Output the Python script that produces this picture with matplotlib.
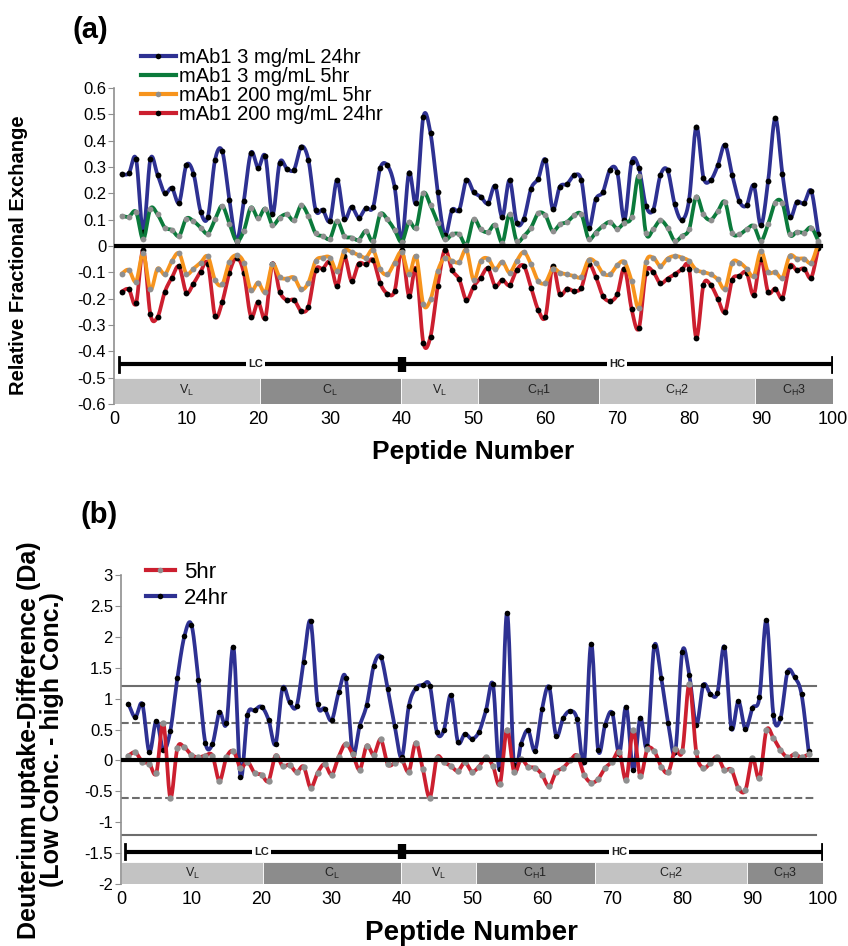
import numpy as np
import matplotlib
matplotlib.use("Agg")
import matplotlib.pyplot as plt
from matplotlib.lines import Line2D
from matplotlib.patches import Rectangle

plt.rcParams["font.family"] = ["Liberation Sans", "DejaVu Sans"]

peptide = np.arange(1, 99)

# (a) relative fractional exchange
rfe_3_24 = [0.272, 0.276, 0.33, 0.054, 0.33, 0.27, 0.20, 0.22, 0.165, 0.306,
            0.275, 0.13, 0.11, 0.327, 0.36, 0.175, 0.02, 0.17, 0.354, 0.297,
            0.34, 0.12, 0.316, 0.294, 0.29, 0.377, 0.327, 0.137, 0.137, 0.096,
            0.25, 0.104, 0.148, 0.108, 0.144, 0.147, 0.296, 0.306, 0.224, 0.019,
            0.278, 0.165, 0.49, 0.428, 0.206, 0.04, 0.137, 0.137, 0.25, 0.205,
            0.187, 0.162, 0.228, 0.11, 0.25, 0.089, 0.104, 0.218, 0.256, 0.327,
            0.142, 0.225, 0.235, 0.268, 0.25, 0.068, 0.177, 0.205, 0.29, 0.28,
            0.1, 0.32, 0.297, 0.152, 0.137, 0.268, 0.287, 0.158, 0.099, 0.175,
            0.453, 0.26, 0.25, 0.306, 0.384, 0.27, 0.17, 0.154, 0.23, 0.078,
            0.245, 0.486, 0.273, 0.109, 0.167, 0.162, 0.209, 0.044]
rfe_3_5 = [0.114, 0.111, 0.129, 0.025, 0.142, 0.12, 0.07, 0.061, 0.038, 0.104,
           0.094, 0.07, 0.047, 0.101, 0.152, 0.085, 0.019, 0.057, 0.146, 0.105,
           0.142, 0.08, 0.108, 0.12, 0.097, 0.154, 0.114, 0.048, 0.038, 0.028,
           0.095, 0.038, 0.032, 0.023, 0.057, 0.019, 0.12, 0.101, 0.061, 0.015,
           0.091, 0.07, 0.2, 0.154, 0.089, 0.025, 0.044, 0.044, 0.005, 0.101,
           0.063, 0.053, 0.08, 0.013, 0.12, 0.019, 0.038, 0.07, 0.124, 0.116,
           0.057, 0.082, 0.091, 0.116, 0.12, 0.028, 0.051, 0.076, 0.091, 0.066,
           0.089, 0.111, 0.266, 0.048, 0.063, 0.097, 0.07, 0.019, 0.038, 0.063,
           0.187, 0.12, 0.099, 0.132, 0.167, 0.051, 0.044, 0.063, 0.076, 0.019,
           0.082, 0.165, 0.162, 0.044, 0.053, 0.051, 0.07, 0.019]
rfe_200_5 = [-0.105, -0.091, -0.135, -0.028, -0.165, -0.086, -0.108, -0.057, -0.028, -0.105,
             -0.086, -0.063, -0.04, -0.129, -0.146, -0.06, -0.035, -0.063, -0.168, -0.139,
             -0.175, -0.07, -0.118, -0.124, -0.12, -0.165, -0.139, -0.057, -0.044, -0.044,
             -0.095, -0.019, -0.023, -0.035, -0.044, -0.015, -0.089, -0.108, -0.063, -0.023,
             -0.108, -0.04, -0.222, -0.203, -0.095, -0.044, -0.057, -0.061, -0.015, -0.129,
             -0.057, -0.048, -0.089, -0.06, -0.101, -0.057, -0.023, -0.07, -0.133, -0.139,
             -0.086, -0.101, -0.108, -0.114, -0.117, -0.053, -0.063, -0.104, -0.108, -0.073,
             -0.061, -0.133, -0.234, -0.061, -0.044, -0.076, -0.048, -0.038, -0.044, -0.057,
             -0.091, -0.099, -0.108, -0.127, -0.162, -0.063, -0.063, -0.086, -0.114, -0.019,
             -0.099, -0.099, -0.12, -0.038, -0.048, -0.048, -0.063, 0.01]
rfe_200_24 = [-0.173, -0.165, -0.218, -0.015, -0.26, -0.27, -0.175, -0.12, -0.078, -0.177,
              -0.143, -0.097, -0.068, -0.266, -0.213, -0.101, -0.044, -0.101, -0.268, -0.213,
              -0.272, -0.067, -0.173, -0.206, -0.205, -0.247, -0.23, -0.091, -0.086, -0.061,
              -0.152, -0.04, -0.133, -0.067, -0.07, -0.053, -0.142, -0.181, -0.171, -0.016,
              -0.19, -0.086, -0.367, -0.344, -0.152, -0.015, -0.091, -0.127, -0.205, -0.154,
              -0.12, -0.085, -0.152, -0.129, -0.149, -0.091, -0.076, -0.158, -0.243, -0.268,
              -0.078, -0.184, -0.162, -0.171, -0.158, -0.07, -0.116, -0.19, -0.209, -0.184,
              -0.086, -0.24, -0.313, -0.101, -0.099, -0.142, -0.124, -0.108, -0.089, -0.086,
              -0.348, -0.148, -0.148, -0.2, -0.251, -0.129, -0.114, -0.101, -0.186, -0.048,
              -0.175, -0.162, -0.196, -0.076, -0.092, -0.086, -0.12, -0.006]

# (b) deuterium uptake difference, low conc. - high conc. (Da)
dd_24 = [0.92, 0.70, 0.91, 0.135, 0.64, 0.17, 0.48, 1.33, 2.01, 2.2,
         1.31, 0.28, 0.265, 0.78, 0.6, 1.83, -0.26, 0.73, 0.81, 0.87,
         0.66, 0.265, 1.17, 0.94, 0.88, 1.6, 2.25, 0.92, 0.84, 0.65,
         1.1, 1.34, 0.12, 0.56, 0.9, 1.53, 1.68, 1.15, 0.55, 0.05,
         0.88, 1.17, 1.22, 1.21, 0.46, 0.49, 1.06, 0.3, 0.43, 0.35,
         0.46, 0.81, 1.23, -0.14, 2.39, -0.07, 0.27, 0.49, 0.16, 0.83,
         1.19, 0.4, 0.68, 0.8, 0.67, -0.02, 1.89, 0.17, 0.58, 0.77,
         0.11, 0.87, -0.16, 0.69, 0.23, 1.85, 1.33, 0.6, 0.14, 1.76,
         1.38, 0.58, 1.22, 1.08, 1.09, 1.84, 0.52, 0.96, 0.51, 0.85,
         1.02, 2.27, 0.73, 0.68, 1.43, 1.35, 1.07, 0.16]
dd_5 = [0.08, 0.13, -0.02, -0.05, -0.2, 0.6, -0.6, 0.2, 0.21, 0.09,
        0.05, 0.08, 0.08, -0.33, 0.05, 0.15, -0.12, -0.02, -0.2, -0.23,
        -0.33, 0.08, -0.09, -0.07, -0.19, -0.1, -0.44, -0.2, -0.06, -0.23,
        0.06, 0.27, 0.1, -0.15, 0.24, 0.09, 0.34, -0.06, -0.04, 0.01,
        -0.18, 0.29, -0.14, -0.6, 0.04, -0.03, -0.09, -0.17, -0.03, -0.18,
        -0.1, 0.05, -0.09, -0.38, 0.5, -0.18, 0.02, -0.1, -0.12, -0.23,
        -0.42, -0.19, -0.12, 0.0, 0.08, -0.23, -0.36, -0.3, -0.12, -0.02,
        0.14, -0.31, 0.49, -0.25, 0.18, 0.15, -0.1, -0.19, 0.18, 0.15,
        1.24, 0.13, -0.12, -0.04, 0.06, -0.15, -0.15, -0.45, -0.48, 0.04,
        -0.29, 0.49, 0.36, 0.17, 0.05, 0.1, 0.05, 0.1]

domain_names = ["V$_\\mathregular{L}$", "C$_\\mathregular{L}$", "V$_\\mathregular{L}$",
                "C$_\\mathregular{H}$1", "C$_\\mathregular{H}$2", "C$_\\mathregular{H}$3"]
domain_edges = [0, 20.2, 39.9, 50.6, 67.5, 89.2, 100]
domain_shade = ["#c3c3c3", "#8c8c8c", "#c3c3c3", "#8c8c8c", "#c3c3c3", "#8c8c8c"]

xticks = list(range(0, 101, 10))
a_yticks = [-0.6, -0.5, -0.4, -0.3, -0.2, -0.1, 0, 0.1, 0.2, 0.3, 0.4, 0.5, 0.6]
a_ylabels = ["-0.6", "-0.5", "-0.4", "-0.3", "-0.2", "-0.1", "0", "0.1", "0.2", "0.3", "0.4", "0.5", "0.6"]
b_yticks = [-2, -1.5, -1, -0.5, 0, 0.5, 1, 1.5, 2, 2.5, 3]
b_ylabels = ["-2", "-1.5", "-1", "-0.5", "0", "0.5", "1", "1.5", "2", "2.5", "3"]

BLUE = "#2e3192"
GREEN = "#0b7a3b"
ORANGE = "#f7941d"
RED = "#cc1f2f"
GREY = "#8f8f8f"


def smooth(x, y, n=16):
    # Catmull-Rom through the points, like the smoothed lines of the original
    x = np.asarray(x, float)
    y = np.asarray(y, float)
    t = np.linspace(0, 1, n, endpoint=False)[:, None]
    out = []
    for v in (x, y):
        p = np.concatenate([[2 * v[0] - v[1]], v, [2 * v[-1] - v[-2]]])
        p0, p1, p2, p3 = p[:-3], p[1:-2], p[2:-1], p[3:]
        c = 0.5 * (2 * p1 + (p2 - p0) * t + (2 * p0 - 5 * p1 + 4 * p2 - p3) * t ** 2
                   + (3 * p1 - p0 - 3 * p2 + p3) * t ** 3)
        out.append(np.append(c.T.ravel(), v[-1]))
    return out


def draw(ax, y, color, mcolor, z, ms=4.2):
    sx, sy = smooth(peptide, y)
    ax.plot(sx, sy, color=color, lw=2.7, zorder=z, solid_capstyle="round")
    ax.plot(peptide, y, "o", ms=ms, color=mcolor, mec="none", zorder=z + 0.1)


def domains(ax, y0, y1, ybar, tick_h, lc_x, hc_x):
    for name, l, r, shade in zip(domain_names, domain_edges[:-1], domain_edges[1:], domain_shade):
        ax.add_patch(Rectangle((l, y0), r - l, y1 - y0, fc=shade, ec="white", lw=0.6, zorder=2))
        ax.text((l + r) / 2, (y0 + y1) / 2, name, ha="center", va="center", fontsize=9,
                color="#222222", zorder=3)
    ax.plot([0.6, 99.9], [ybar, ybar], color="black", lw=3, zorder=3, solid_capstyle="butt")
    for xe in (0.6, 99.9):
        ax.plot([xe, xe], [ybar - tick_h, ybar + tick_h], color="black", lw=2, zorder=3)
    ax.plot([40, 40], [ybar - tick_h, ybar + tick_h], color="black", lw=6, zorder=3,
            solid_capstyle="butt")
    for label, xx in (("LC", lc_x), ("HC", hc_x)):
        ax.text(xx, ybar, label, ha="center", va="center", fontsize=8, fontweight="bold",
                color="#222222", zorder=4,
                bbox=dict(fc="white", ec="none", pad=1.5))


def style(ax, yt, yl):
    ax.set_xlim(0, 100)
    ax.set_xticks(xticks)
    ax.set_xticklabels([str(v) for v in xticks], fontsize=13)
    ax.set_yticks(yt)
    ax.set_yticklabels(yl, fontsize=12)
    ax.tick_params(axis="x", length=0, pad=5)
    ax.tick_params(axis="y", length=4, color=GREY, pad=2)
    for s in ("top", "right", "bottom"):
        ax.spines[s].set_visible(False)
    ax.spines["left"].set_color(GREY)
    ax.spines["left"].set_linewidth(1.2)
    ax.patch.set_alpha(0)


fig = plt.figure(figsize=(8.48, 9.46), dpi=100)

# ---- panel (a)
ax1 = fig.add_axes([0.135, 0.573, 0.847, 0.334])
style(ax1, a_yticks, a_ylabels)
ax1.set_ylim(-0.6, 0.6)
draw(ax1, rfe_3_24, BLUE, "black", 3)
draw(ax1, rfe_3_5, GREEN, GREY, 3.3)
draw(ax1, rfe_200_24, RED, "black", 3)
draw(ax1, rfe_200_5, ORANGE, GREY, 3.3)
ax1.plot([0, 98.3], [0, 0], color="black", lw=3, zorder=5)
domains(ax1, -0.6, -0.5, -0.45, 0.027, 19.7, 70)

handles_a = [Line2D([], [], color=BLUE, lw=3, marker="o", ms=4, mfc="black", mec="none"),
             Line2D([], [], color=GREEN, lw=3),
             Line2D([], [], color=ORANGE, lw=3, marker="o", ms=4, mfc=GREY, mec="none"),
             Line2D([], [], color=RED, lw=3, marker="o", ms=4, mfc="black", mec="none")]
labels_a = ["mAb1 3 mg/mL 24hr", "mAb1 3 mg/mL 5hr", "mAb1 200 mg/mL 5hr", "mAb1 200 mg/mL 24hr"]
fig.legend(handles_a, labels_a, loc="upper left", bbox_to_anchor=(0.166, 0.949),
           frameon=False, fontsize=14.5, handlelength=1.75, handletextpad=0.15,
           labelspacing=0.0, borderaxespad=0, borderpad=0)

ax1.set_xlabel("Peptide Number", fontsize=19, fontweight="bold", labelpad=9)
fig.text(0.022, 0.73, "Relative Fractional Exchange", rotation=90, ha="center", va="center",
         fontsize=14.5, fontweight="bold")
fig.text(0.085, 0.968, "(a)", fontsize=21, fontweight="bold", ha="left", va="center")

# ---- panel (b)
ax2 = fig.add_axes([0.143, 0.0655, 0.827, 0.3266])
style(ax2, b_yticks, b_ylabels)
ax2.set_ylim(-2, 3)
for yv, ls in ((1.2, "-"), (-1.2, "-"), (0.6, "--"), (-0.6, "--")):
    ax2.plot([0, 99], [yv, yv], color="#6d6d6d", lw=1.5, ls=ls, zorder=1)
draw(ax2, dd_24, BLUE, "black", 3, ms=4)
draw(ax2, dd_5, RED, GREY, 3.3, ms=4.6)
ax2.plot([0, 99.2], [0, 0], color="black", lw=3, zorder=5)
domains(ax2, -2, -1.65, -1.48, 0.12, 20, 71)

handles_b = [Line2D([], [], color=RED, lw=3, marker="o", ms=4, mfc=GREY, mec="none"),
             Line2D([], [], color=BLUE, lw=3, marker="o", ms=4, mfc="black", mec="none")]
fig.legend(handles_b, ["5hr", "24hr"], loc="upper left", bbox_to_anchor=(0.172, 0.406),
           frameon=False, fontsize=16, handlelength=1.3, handletextpad=0.4,
           labelspacing=0.22, borderaxespad=0, borderpad=0)

ax2.set_xlabel("Peptide Number", fontsize=20, fontweight="bold", labelpad=9)
fig.text(0.048, 0.218, "Deuterium uptake-Difference (Da)\n(Low Conc. - high Conc.)",
         rotation=90, ha="center", va="center", fontsize=18, fontweight="bold",
         linespacing=0.97, multialignment="center")
fig.text(0.095, 0.456, "(b)", fontsize=21, fontweight="bold", ha="left", va="center")

fig.savefig("out.png", dpi=100)
